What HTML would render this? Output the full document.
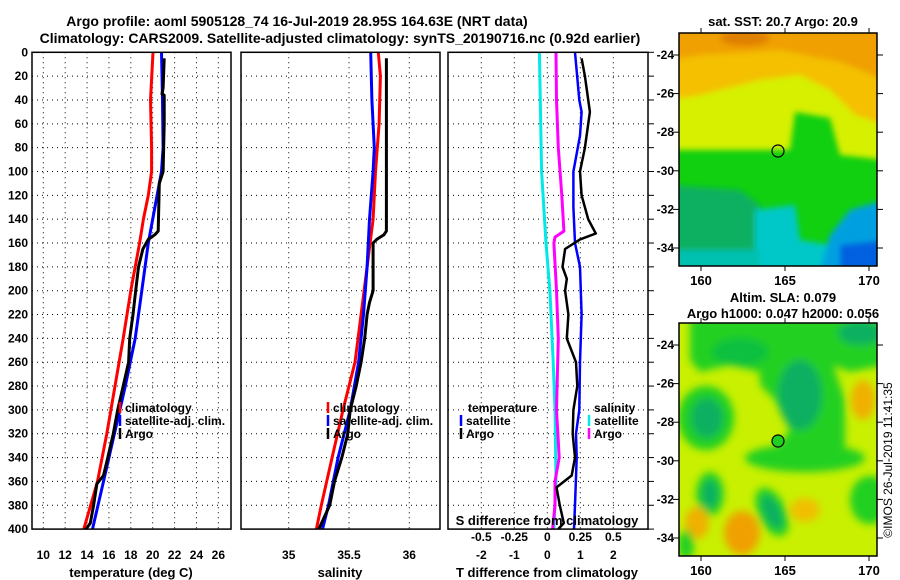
<!DOCTYPE html>
<html><head><meta charset="utf-8"><style>
html,body{margin:0;padding:0;background:#fff;}
svg{display:block;font-family:"Liberation Sans",Arial,sans-serif;font-weight:bold;}
</style></head><body>
<svg id="c" width="900" height="580" viewBox="0 0 900 580" xmlns="http://www.w3.org/2000/svg">
<defs>
<filter id="bl" x="-20%" y="-20%" width="140%" height="140%"><feGaussianBlur stdDeviation="4"/></filter>
<filter id="bl2" x="-20%" y="-20%" width="140%" height="140%"><feGaussianBlur stdDeviation="3"/></filter>
<clipPath id="m1c"><rect x="679" y="33" width="198" height="233"/></clipPath>
<clipPath id="m2c"><rect x="679" y="323" width="198" height="233"/></clipPath>
</defs>
<text x="297" y="26" text-anchor="middle" font-size="14">Argo profile: aoml 5905128_74 16-Jul-2019 28.95S 164.63E (NRT data)</text>
<text x="340" y="43" text-anchor="middle" font-size="14">Climatology: CARS2009. Satellite-adjusted climatology: synTS_20190716.nc (0.92d earlier)</text>

<g id="map1">
<g clip-path="url(#m1c)">
<rect x="679" y="33" width="198" height="233" fill="#10d010"/>
<g filter="url(#bl2)">
<polygon points="670,25 885,25 885,160 840,155 830,118 795,112 790,150 670,150" fill="#d6f000"/>
<polygon points="670,25 885,25 885,125 855,115 830,90 800,75 760,80 700,95 670,100" fill="#f4c000"/>
<polygon points="670,25 885,25 885,80 840,62 780,50 700,55 670,60" fill="#f0a000"/>
<ellipse cx="745" cy="38" rx="25" ry="8" fill="#e08000"/>
<polygon points="670,185 740,190 760,205 760,270 670,270" fill="#10b060"/>
<polygon points="755,210 795,205 800,240 830,245 835,270 755,270" fill="#00c8c8"/>
<polygon points="830,235 850,210 885,200 885,270 820,270" fill="#00a0e0"/>
<polygon points="840,245 885,240 885,270 840,270" fill="#0060e0"/>
<polygon points="670,250 760,250 760,270 670,270" fill="#00c0b0"/>
</g>
</g>
<rect x="679" y="33" width="198" height="233" fill="none" stroke="#000" stroke-width="1.5"/>
<circle cx="778" cy="151" r="6" fill="none" stroke="#000" stroke-width="1.2"/>
<text x="783" y="26" text-anchor="middle" font-size="13">sat. SST: 20.7 Argo: 20.9</text>
</g>

<g id="map2">
<g clip-path="url(#m2c)">
<rect x="679" y="323" width="198" height="233" fill="#c8f000"/>
<g filter="url(#bl)">
<polygon points="690,318 885,318 885,365 850,372 820,360 790,358 760,372 730,365 700,372 690,360" fill="#20d020"/>
<ellipse cx="860" cy="333" rx="22" ry="12" fill="#10b060"/>
<ellipse cx="740" cy="352" rx="28" ry="14" fill="#10c040"/>
<polygon points="760,360 830,355 845,400 845,445 830,470 790,468 770,455 790,430 775,400 760,385" fill="#20d020"/>
<ellipse cx="800" cy="395" rx="22" ry="35" fill="#10b060"/>
<ellipse cx="706" cy="418" rx="28" ry="32" fill="#20d020"/>
<ellipse cx="707" cy="418" rx="16" ry="20" fill="#10b060"/>
<ellipse cx="805" cy="458" rx="60" ry="14" fill="#20d020"/>
<ellipse cx="870" cy="500" rx="20" ry="24" fill="#20d020"/>
<ellipse cx="710" cy="494" rx="14" ry="22" fill="#20d020"/>
<ellipse cx="710" cy="494" rx="8" ry="14" fill="#10b060"/>
<ellipse cx="772" cy="512" rx="14" ry="26" fill="#20d020" transform="rotate(-25 772 512)"/>
<ellipse cx="772" cy="512" rx="8" ry="18" fill="#10b060" transform="rotate(-25 772 512)"/>
<ellipse cx="697" cy="523" rx="12" ry="16" fill="#f0b000"/>
<ellipse cx="742" cy="533" rx="18" ry="22" fill="#f0a000"/>
<ellipse cx="805" cy="510" rx="15" ry="12" fill="#f0c000"/>
<ellipse cx="863" cy="400" rx="12" ry="20" fill="#f0b000"/>
<ellipse cx="686" cy="545" rx="8" ry="15" fill="#20d020"/>
</g>
</g>
<rect x="679" y="323" width="198" height="233" fill="none" stroke="#000" stroke-width="1.5"/>
<circle cx="778" cy="441" r="6" fill="#20d020" stroke="#000" stroke-width="1.2"/>
<text x="783" y="302" text-anchor="middle" font-size="13">Altim. SLA: 0.079</text>
<text x="783" y="318" text-anchor="middle" font-size="13">Argo h1000: 0.047 h2000: 0.056</text>
</g>
<text transform="translate(892,460) rotate(-90)" text-anchor="middle" font-size="12" font-weight="normal">©IMOS 26-Jul-2019 11:41:35</text>
</svg>
<script>
// ---- data ----
const depths = [0,20,40,60,80,100,120,140,160,180,200,220,240,260,280,300,320,340,360,380,400];
const tempClimDepth = [0,40,80,100,120,140,160,200,240,280,320,360,400];
const tempClim = [20.03,19.8,19.9,19.9,19.6,19.15,18.8,18.0,17.3,16.55,15.8,14.95,13.7];
const tempSatDepth = [0,40,80,100,120,140,160,200,240,280,320,360,400];
const tempSat = [20.8,20.9,20.95,20.8,20.4,20.0,19.6,19.0,18.4,17.5,16.5,15.5,14.5];
const argoDepth = [5,30,35,36,60,100,110,150,153,157,165,180,200,220,240,260,280,300,320,340,355,362,380,395,400];
const argoTemp = [21.05,20.95,20.85,21.05,21.05,20.95,20.6,20.5,20.2,19.6,19.1,18.7,18.45,18.2,17.9,17.8,17.3,16.8,16.4,15.9,15.5,14.9,14.6,14.3,13.9];
const salClimDepth = [0,20,60,100,140,180,220,260,300,340,380,400];
const salClim = [35.743,35.76,35.75,35.72,35.70,35.65,35.60,35.55,35.45,35.36,35.27,35.23];
const salSatDepth = [0,40,80,100,140,180,220,260,300,340,380,400];
const salSat = [35.68,35.69,35.71,35.70,35.67,35.65,35.62,35.58,35.51,35.41,35.33,35.28];
const argoSalDepth = [5,150,153,157,160,200,210,220,240,260,280,300,320,340,360,380,400];
const argoSal = [35.81,35.81,35.79,35.73,35.70,35.70,35.67,35.65,35.63,35.60,35.56,35.51,35.49,35.44,35.38,35.34,35.25];
const dTSatDepth = [0,40,50,70,100,130,160,180,220,260,300,320,340,380,400];
const dTSat = [0.84,0.97,1.04,0.99,0.79,0.79,0.84,0.99,1.04,0.99,0.97,0.87,0.89,0.84,0.81];
const dTArgoDepth = [5,20,50,80,100,120,140,152,157,165,180,190,200,220,240,260,280,300,320,340,355,365,380,395,400];
const dTArgo = [1.04,1.14,1.29,1.14,0.99,1.04,1.24,1.47,0.99,0.54,0.46,0.59,0.54,0.64,0.59,0.87,0.91,0.79,0.77,0.84,0.74,0.28,0.38,0.5,0.33];
const dSSatDepth = [0,100,160,200,260,300,360,400];
const dSSat = [-0.06,-0.043,-0.01,0.02,0.045,0.058,0.066,0.05];
const dSArgoDepth = [0,40,80,120,150,155,160,200,240,300,340,360,380,400];
const dSArgo = [0.066,0.07,0.083,0.11,0.126,0.058,0.05,0.07,0.083,0.07,0.09,0.058,0.058,0.04];
const tempTicks = [10,12,14,16,18,20,22,24,26];
const salTicks = [35,35.5,36];
const dTTicks = [-2,-1,0,1,2];
const dSTicks = [-0.5,-0.25,0,0.25,0.5];
const dSTickLabels = ['-0.5','-0.25','0','0.25','0.5'];
const latTicks = [-24,-26,-28,-30,-32,-34];
const lonTicks = [160,165,170];

// ---- scales ----
const Y0=52.3, YS=1.192;
const yD = d => Y0 + d*YS;
const xT = t => 43.3 + (t-10)*10.94;
const xS = s => 288.7 + (s-35)*120.6;
const xDT = t => 547.3 + t*33;
const xDS = s => 547.3 + s*132;
const mapX = lon => 701 + (lon-160)*16.8;
const map1Y = lat => 55 + (-24-lat)*19.3;
const map2Y = lat => 345 + (-24-lat)*19.3;

const svg = document.getElementById('c');
const NS='http://www.w3.org/2000/svg';
function mk(tag, attrs, parent){const e=document.createElementNS(NS,tag);for(const k in attrs)e.setAttribute(k,attrs[k]);(parent||svg).appendChild(e);return e;}
function txt(x,y,s,anchor,size,parent){const t=mk('text',{x:x,y:y,'text-anchor':anchor||'middle','font-size':size||12},parent);t.textContent=s;return t;}

const panels=[{x0:32,x1:231,name:'temperature-panel'},{x0:241,x1:440,name:'salinity-panel'},{x0:448,x1:648,name:'difference-panel'}];
const Ybot=yD(400);
panels.forEach((p,i)=>{
  const g=mk('g',{});
  
  
  p.g=g;
  depths.forEach(d=>{ if(d>0&&d<400){const l=mk('line',{x1:p.x0,x2:p.x1,y1:yD(d),y2:yD(d),stroke:'#000','stroke-width':1,'stroke-dasharray':'1,4'},g);
    
    }});
});
tempTicks.forEach(t=>{const l=mk('line',{x1:xT(t),x2:xT(t),y1:Y0,y2:Ybot,stroke:'#000','stroke-dasharray':'1,4'},panels[0].g);
  
  
  const s=txt(xT(t),559,String(t),'middle',12,panels[0].g);
  
  });
salTicks.forEach(t=>{const l=mk('line',{x1:xS(t),x2:xS(t),y1:Y0,y2:Ybot,stroke:'#000','stroke-dasharray':'1,4'},panels[1].g);
  
  
  const s=txt(xS(t),559,String(t),'middle',12,panels[1].g);
  
  });
dTTicks.forEach(t=>{const l=mk('line',{x1:xDT(t),x2:xDT(t),y1:Y0,y2:Ybot,stroke:'#000','stroke-dasharray':'1,4'},panels[2].g);
  
  
  const s=txt(xDT(t),559,String(t),'middle',12,panels[2].g);
  
  });
dSTicks.forEach((t,i)=>{const s=txt(xDS(t),541,dSTickLabels[i],'middle',12,panels[2].g);
  
  });
depths.forEach(d=>{const s=txt(28,yD(d)+4,String(d),'end',12);
  
  
  const tk=mk('line',{x1:648,x2:654,y1:yD(d),y2:yD(d),stroke:'#000'});
  
  });

function series(xs, ds, xf, color, w, parent, name){
  const pts=xs.map((v,i)=>xf(v).toFixed(1)+','+yD(ds[i]).toFixed(1)).join(' ');
  const pl=mk('polyline',{points:pts,fill:'none',stroke:color,'stroke-width':w,'stroke-linejoin':'round'},parent);
  
  
}
series(tempClim,tempClimDepth,xT,'#ff0000',3,panels[0].g,'temp-climatology-line');
series(tempSat,tempSatDepth,xT,'#0000ff',3,panels[0].g,'temp-satellite-line');
series(argoTemp,argoDepth,xT,'#000',3,panels[0].g,'temp-argo-line');
series(salClim,salClimDepth,xS,'#ff0000',3,panels[1].g,'salinity-climatology-line');
series(salSat,salSatDepth,xS,'#0000ff',3,panels[1].g,'salinity-satellite-line');
series(argoSal,argoSalDepth,xS,'#000',3,panels[1].g,'salinity-argo-line');
series(dSSat,dSSatDepth,xDS,'#00e8e8',3,panels[2].g,'sdiff-satellite-line');
series(dSArgo,dSArgoDepth,xDS,'#ff00ff',3,panels[2].g,'sdiff-argo-line');
series(dTSat,dTSatDepth,xDT,'#0000ff',2.5,panels[2].g,'tdiff-satellite-line');
series(dTArgo,dTArgoDepth,xDT,'#000',2.5,panels[2].g,'tdiff-argo-line');

panels.forEach(p=>{const r=mk('rect',{x:p.x0,y:Y0,width:p.x1-p.x0,height:Ybot-Y0,fill:'none',stroke:'#000','stroke-width':1.5},p.g);
  
  });

[[131,'temperature (deg C)',0],[340,'salinity',1],[547,'T difference from climatology',2]].forEach(a=>{
  const t=txt(a[0],577,a[1],'middle',13,panels[a[2]].g);
  
  });
const sdt=txt(547,525,'S difference from climatology','middle',13,panels[2].g);



function legend(x,y,color,label,parent){
  const g=mk('g',{},parent);
  
  
  mk('line',{x1:x,x2:x,y1:y-10,y2:y+1,stroke:color,'stroke-width':2.5},g);
  txt(x+5,y,label,'start',12,g);
}
legend(120,412,'#ff0000','climatology',panels[0].g);
legend(120,425,'#0000ff','satellite-adj. clim.',panels[0].g);
legend(120,438,'#000','Argo',panels[0].g);
legend(328,412,'#ff0000','climatology',panels[1].g);
legend(328,425,'#0000ff','satellite-adj. clim.',panels[1].g);
legend(328,438,'#000','Argo',panels[1].g);
const lt=txt(468,412,'temperature','start',12,panels[2].g);


const ls=txt(594,412,'salinity','start',12,panels[2].g);


legend(461,425,'#0000ff','satellite',panels[2].g);
legend(461,438,'#000','Argo',panels[2].g);
legend(589,425,'#00e8e8','satellite',panels[2].g);
legend(589,438,'#ff00ff','Argo',panels[2].g);

[[map1Y,33,266],[map2Y,323,556]].forEach(m=>{
  const g=mk('g',{});
  
  
  latTicks.forEach(la=>{const y=m[0](la);
    mk('line',{x1:673,x2:679,y1:y,y2:y,stroke:'#000'},g);
    mk('line',{x1:877,x2:883,y1:y,y2:y,stroke:'#000'},g);
    const t=txt(674,y+4,String(la),'end',12,g);
    
    });
  lonTicks.forEach(lo=>{const x=mapX(lo);
    mk('line',{x1:x,x2:x,y1:m[1]-5,y2:m[1],stroke:'#000'},g);
    mk('line',{x1:x,x2:x,y1:m[2],y2:m[2]+5,stroke:'#000'},g);
    const t=txt(x,m[2]+19,String(lo),'middle',13,g);
    
    });
});
</script>
</body></html>
